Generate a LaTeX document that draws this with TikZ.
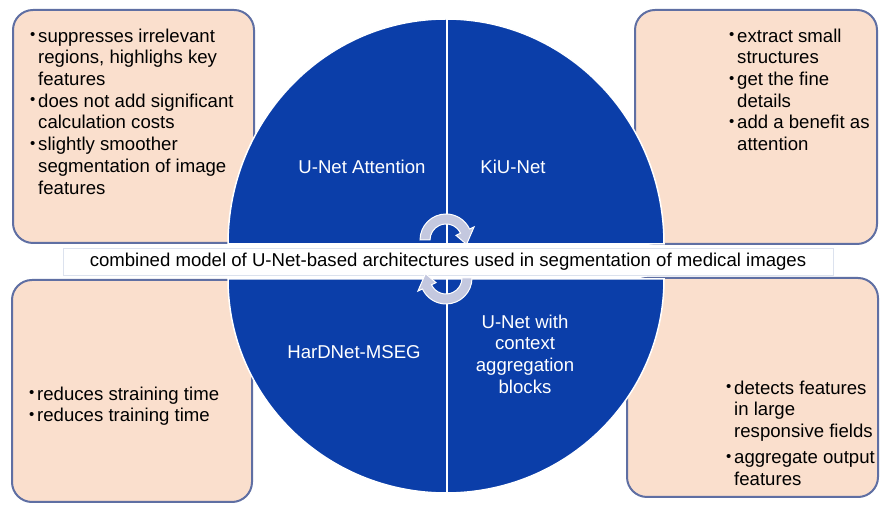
\documentclass[tikz,border=0pt]{standalone}
\usepackage{fontspec}
\setmainfont{Liberation Sans}
\usepackage{tikz}
\usetikzlibrary{calc}
\definecolor{unetblue}{HTML}{0B3EA9}
\definecolor{peach}{HTML}{FADFCD}
\definecolor{frame}{HTML}{5F6FA3}
\definecolor{turngrey}{HTML}{C4C8DF}
\definecolor{bandline}{HTML}{DCE2EE}
\newcommand{\bul}{\makebox[8pt][l]{\raisebox{2.5pt}{\fontsize{15}{15}\selectfont\textbullet}}}
\newcommand{\ind}{\hspace*{8pt}}

\begin{document}
\begin{tikzpicture}[x=1pt, y=1pt, font=\fontsize{18.6}{21.7}\selectfont,
  infobox/.style={draw=frame, line width=2pt, fill=peach, rounded corners=20pt},
  bullets/.style={align=left, inner sep=0pt, anchor=north west},
  quarter/.style={text=white, align=center, inner sep=0pt},
  turnarrow/.style={fill=turngrey, draw=white, line width=1pt}]
  \useasboundingbox (0,0) rectangle (880,505);
  % peach boxes behind the circle
  \node[infobox, minimum width=241pt, minimum height=233pt] (attbox) at (133.5,378.5) {};
  \node[infobox, minimum width=242pt, minimum height=234pt] (kiubox) at (756,378) {};
  \node[infobox, minimum width=240pt, minimum height=222pt] (hardbox) at (132,114) {};
  \node[infobox, minimum width=251pt, minimum height=219pt] (cabbox) at (752.5,117.5) {};
  % the split circle
  \path[fill=unetblue, draw=white, line width=1.5pt] (228,261) arc[start angle=180, end angle=0, x radius=218, y radius=225] -- cycle;
  \path[fill=unetblue, draw=white, line width=1.5pt] (228,226) arc[start angle=180, end angle=360, x radius=218, y radius=214] -- cycle;
  \draw[white, line width=2.5pt] (447,492) -- (447,8);
  \node[draw=bandline, fill=white, minimum width=770pt, minimum height=27pt, inner sep=0pt] (band) at (448,243.5)
    {combined model of U-Net-based architectures used in segmentation of medical images};
  % model names
  \node[quarter] (att) at (362,338) {U-Net Attention};
  \node[quarter] (kiu) at (513,338) {KiU-Net};
  \node[quarter] (hard) at (354,153) {HarDNet-MSEG};
  \node[quarter] (cab) at (525,151) {U-Net with\\context\\aggregation\\blocks};
  % turning arrows
  \coordinate (upc) at (446,265);
  \coordinate (loc) at (446,227);
  \path[turnarrow] ([shift={(180:26)}]upc) arc[start angle=180, end angle=25, radius=26]
    -- ([shift={(25:31)}]upc) -- ([shift={(-12:21)}]upc) -- ([shift={(25:11)}]upc)
    -- ([shift={(25:16)}]upc) arc[start angle=25, end angle=180, radius=16] -- cycle;
  \path[turnarrow] ([shift={(0:26)}]loc) arc[start angle=0, end angle=-155, radius=26]
    -- ([shift={(-155:31)}]loc) -- ([shift={(168:21)}]loc) -- ([shift={(-155:11)}]loc)
    -- ([shift={(-155:16)}]loc) arc[start angle=-155, end angle=0, radius=16] -- cycle;
  % box texts
  \node[bullets] (atttext) at (30,476.5) {\bul suppresses irrelevant\\\ind regions, highlighs key\\\ind features\\\bul does not add significant\\\ind calculation costs\\\bul slightly smoother\\\ind segmentation of image\\\ind features};
  \node[bullets] (kiutext) at (729,476.5) {\bul extract small\\\ind structures\\\bul get the fine\\\ind details\\\bul add a benefit as\\\ind attention};
  \node[bullets] (hardtext) at (29,118.5) {\bul reduces straining time\\\bul reduces training time};
  \node[bullets] (cabtext) at (726,124.5) {\bul detects features\\\ind in large\\\ind responsive fields\\[4.5pt]\bul aggregate output\\\ind features};
\end{tikzpicture}
\end{document}
